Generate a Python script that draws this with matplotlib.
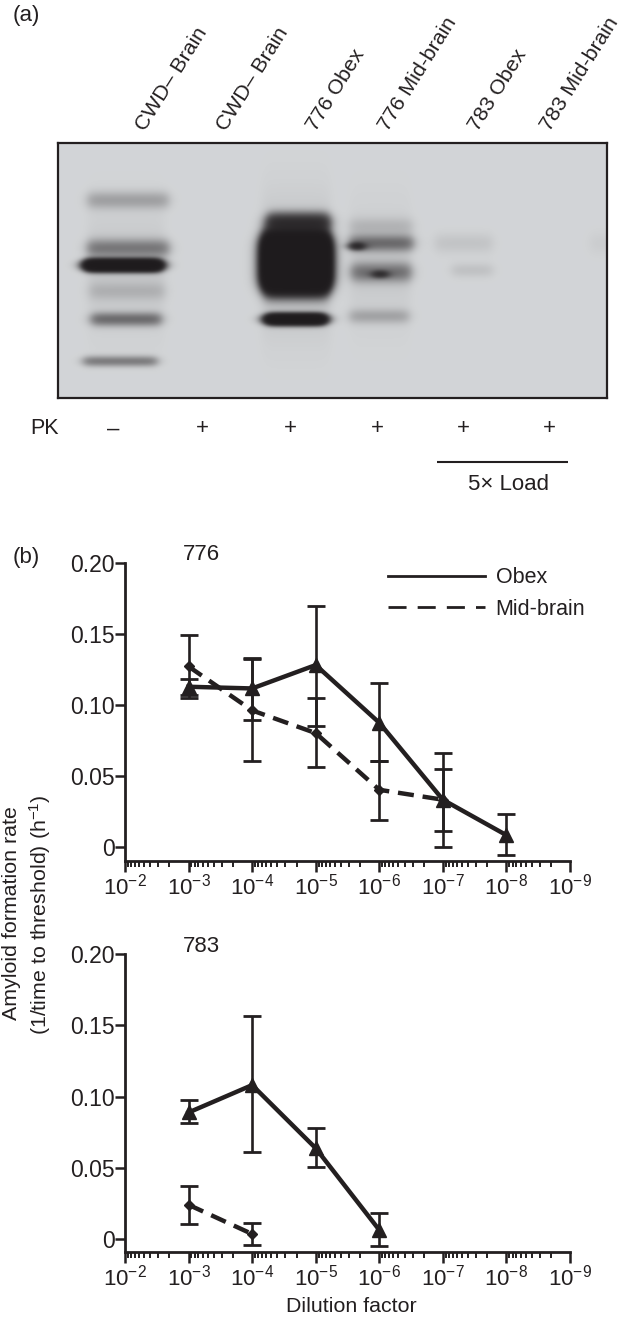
import numpy as np
import matplotlib
matplotlib.use("Agg")
import matplotlib.pyplot as plt
from matplotlib.colors import LinearSegmentedColormap
from matplotlib.lines import Line2D
from matplotlib.ticker import FixedLocator, FixedFormatter, LogLocator, NullFormatter

plt.rcParams['font.family'] = ['Liberation Sans', 'DejaVu Sans']
plt.rcParams['mathtext.fontset'] = 'custom'
plt.rcParams['mathtext.rm'] = 'Liberation Sans'
plt.rcParams['mathtext.default'] = 'regular'

INK = '#231f20'
W, H = 622, 1319

# ---------- data ----------
dilutions = [1e-3, 1e-4, 1e-5, 1e-6, 1e-7, 1e-8]
obex776 = [0.1127, 0.1115, 0.128, 0.0873, 0.033, 0.008]
obex776_lo = [0.107, 0.089, 0.085, 0.060, 0.0, -0.006]
obex776_hi = [0.1185, 0.133, 0.170, 0.1155, 0.0657, 0.023]
mid776 = [0.127, 0.096, 0.080, 0.040, 0.033]
mid776_lo = [0.105, 0.060, 0.056, 0.019, 0.011]
mid776_hi = [0.149, 0.132, 0.1045, 0.060, 0.055]

obex783 = [0.0888, 0.108, 0.0637, 0.0063]
obex783_lo = [0.0813, 0.0614, 0.0503, -0.0047]
obex783_hi = [0.0977, 0.1567, 0.078, 0.018]
mid783 = [0.024, 0.0035]
mid783_lo = [0.0105, -0.004]
mid783_hi = [0.037, 0.011]

y_ticks = [0, 0.05, 0.10, 0.15, 0.20]
y_ticklabels = ['0', '0.05', '0.10', '0.15', '0.20']
x_exps = [-2, -3, -4, -5, -6, -7, -8, -9]

lane_labels = ['CWD\u2013 Brain', 'CWD\u2013 Brain', '776 Obex', '776 Mid-brain', '783 Obex', '783 Mid-brain']
lane_pk = ['\u2013', '+', '+', '+', '+', '+']

# blot bands: left, right, centre row, thickness, density (image pixels)
band_x0 = [88, 88, 90, 92, 84, 86, 268, 265, 265, 265, 267, 350, 350, 352, 350, 435, 452, 352, 374, 590, 262, 88, 350]
band_x1 = [168, 168, 164, 160, 156, 160, 328, 327, 327, 327, 324, 412, 412, 410, 408, 492, 492, 362, 386, 612, 330, 164, 410]
band_y = [200, 248, 291, 319, 361, 265, 222, 246, 262, 278, 319, 226, 243, 272, 316, 243, 270, 246, 274, 243, 265, 270, 265]
band_h = [6, 6, 6, 4.5, 3.5, 3.6, 6, 9, 9, 9, 3.4, 6, 5.5, 6.5, 5, 7, 5, 2.5, 2.5, 8, 42, 40, 40]
band_d = [0.2, 0.4, 0.1, 0.5, 0.4, 5.0, 1.3, 7.0, 7.0, 7.0, 4.5, 0.1, 0.5, 0.45, 0.18, 0.06, 0.07, 1.6, 1.2, 0.03, 0.1, 0.05, 0.04]

# ---------- figure ----------
fig = plt.figure(figsize=(W / 100, H / 100), dpi=100, facecolor='white')


def px_axes(l, t, r, b):
    return fig.add_axes([l / W, 1 - b / H, (r - l) / W, (b - t) / H])


page = px_axes(0, 0, W, H)
page.set_xlim(0, W)
page.set_ylim(H, 0)
page.axis('off')

# ---------- panel (a) ----------
BL, BT, BR, BB = 58, 143, 607, 398
blot = px_axes(BL, BT, BR, BB)
xx, yy = np.meshgrid(np.arange(BL, BR, 0.5), np.arange(BT, BB, 0.5))
dens = np.zeros_like(xx)
for x0, x1, yc, h, d in zip(band_x0, band_x1, band_y, band_h, band_d):
    left = np.clip((xx - x0) / 3.0, -12, 12)
    right = np.clip((x1 - xx) / 3.0, -12, 12)
    across = 1 / (1 + np.exp(-left)) / (1 + np.exp(-right))
    dens += d * across * np.exp(-0.5 * ((yy - yc) / h) ** 2)
blot_cmap = LinearSegmentedColormap.from_list('blot', ['#1f1c1e', '#d3d5d7'])
blot.imshow(np.exp(-1.6 * dens), cmap=blot_cmap, vmin=0, vmax=1, aspect='auto',
            interpolation='bilinear', extent=(BL, BR, BB, BT))
blot.set_xticks([])
blot.set_yticks([])
for s in blot.spines.values():
    s.set_linewidth(1.6)
    s.set_color(INK)

page.text(13, 16, '(a)', fontsize=16, color=INK, ha='left', va='center')
for lx, ly, lab in zip([145, 226, 316, 388, 478, 550], [132] * 6, lane_labels):
    page.text(lx, ly, lab, rotation=58, rotation_mode='anchor', ha='left', va='baseline',
              fontsize=15.3, color=INK)
page.text(30, 429, 'PK', fontsize=15.5, color=INK, ha='left', va='center')
for lx, s in zip([113, 202, 290, 377, 463, 549], lane_pk):
    page.text(lx, 429, s, fontsize=16, color=INK, ha='center', va='center')
page.plot([437, 568], [462, 462], color=INK, lw=1.5, solid_capstyle='butt')
page.text(509, 484, '5\u00d7 Load', fontsize=16, color=INK, ha='center', va='center')


# ---------- panel (b) ----------
def curve_panel(top, zero, bottom, series, title, title_y):
    ax = px_axes(125, top, 570, bottom)
    ax.patch.set_alpha(0)
    ax.set_xscale('log')
    ax.set_xlim(1e-2, 1e-9)
    per = (zero - top) / 0.20
    ax.set_ylim(-(bottom - zero) / per, 0.20)
    for xs, ys, lo, hi, marker, ms, ls in series:
        ys_a, lo_a, hi_a = np.array(ys), np.array(lo), np.array(hi)
        ax.errorbar(xs, ys_a, yerr=[ys_a - lo_a, hi_a - ys_a], fmt='none', ecolor=INK,
                    elinewidth=1.9, capsize=6.5, capthick=2.0, clip_on=False, zorder=3)
        ax.plot(xs, ys_a, color=INK, lw=3.2, ls=ls, marker=marker, ms=ms, mfc=INK, mec=INK,
                clip_on=False, zorder=4)
    ax.spines['top'].set_visible(False)
    ax.spines['right'].set_visible(False)
    for side in ('left', 'bottom'):
        ax.spines[side].set_linewidth(2.0)
        ax.spines[side].set_color(INK)
    ax.yaxis.set_major_locator(FixedLocator(y_ticks))
    ax.yaxis.set_major_formatter(FixedFormatter(y_ticklabels))
    ax.xaxis.set_major_locator(FixedLocator([10.0 ** e for e in x_exps]))
    ax.xaxis.set_major_formatter(FixedFormatter(['10$^{\u2212%d}$' % abs(e) for e in x_exps]))
    ax.xaxis.set_minor_locator(LogLocator(base=10, subs=np.arange(2, 10), numticks=20))
    ax.xaxis.set_minor_formatter(NullFormatter())
    ax.tick_params(axis='y', which='major', length=7, width=1.8, color=INK, labelcolor=INK,
                   labelsize=16.5, pad=0.5)
    ax.tick_params(axis='x', which='major', length=8, width=1.8, color=INK, labelcolor=INK,
                   labelsize=16, pad=1)
    ax.tick_params(axis='x', which='minor', length=4.5, width=1.4, color=INK)
    page.text(183, title_y, title, fontsize=16, color=INK, ha='left', va='center')
    return ax


ax1 = curve_panel(563, 846.5, 861,
                  [(dilutions[:5], mid776, mid776_lo, mid776_hi, 'D', 5.5, (0, (3.6, 2.0))),
                   (dilutions, obex776, obex776_lo, obex776_hi, '^', 10, '-')],
                  '776', 555)
ax2 = curve_panel(954, 1239, 1252,
                  [(dilutions[:2], mid783, mid783_lo, mid783_hi, 'D', 5.5, (0, (3.6, 2.0))),
                   (dilutions[:4], obex783, obex783_lo, obex783_hi, '^', 10, '-')],
                  '783', 946)

ax1.legend(handles=[Line2D([], [], color=INK, lw=2.0, ls='-'),
                    Line2D([], [], color=INK, lw=2.0, ls=(0, (6.5, 4)))],
           labels=['Obex', 'Mid-brain'], loc='upper left', bbox_to_anchor=(263 / 445, 0.985),
           frameon=False, fontsize=15.5, handlelength=4.5, handletextpad=0.5,
           labelspacing=0.48, borderpad=0, borderaxespad=0, labelcolor=INK)

page.text(13, 558, '(b)', fontsize=16, color=INK, ha='left', va='center')
page.text(12, 913, 'Amyloid formation rate', rotation=90, fontsize=15.4, color=INK,
          ha='center', va='center')
page.text(40, 915, '(1/time to threshold) (h$^{\u22121}$)', rotation=90, fontsize=15.4, color=INK,
          ha='center', va='center')
page.text(351, 1306, 'Dilution factor', fontsize=15.4, color=INK, ha='center', va='center')

fig.savefig('out.png', dpi=100)
